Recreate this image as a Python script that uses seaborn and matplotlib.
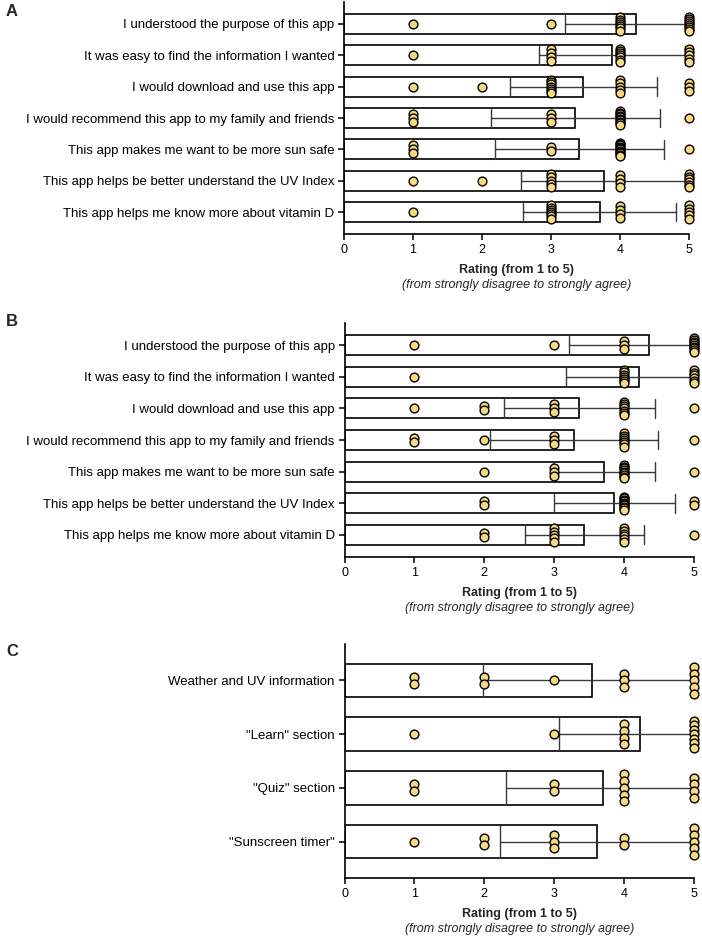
import numpy as np
import pandas as pd
import matplotlib
matplotlib.use("Agg")
import matplotlib.pyplot as plt
import seaborn as sns

ratings = [1, 2, 3, 4, 5]

items_ab = [
    "I understood the purpose of this app",
    "It was easy to find the information I wanted",
    "I would download and use this app",
    "I would recommend this app to my family and friends",
    "This app makes me want to be more sun safe",
    "This app helps be better understand the UV Index",
    "This app helps me know more about vitamin D",
]
# number of respondents giving rating 1..5, read from the dot stacks
counts_a = [
    [1, 0, 1, 7, 8],
    [1, 0, 4, 7, 5],
    [1, 1, 7, 5, 3],
    [3, 0, 3, 10, 1],
    [3, 0, 2, 11, 1],
    [1, 1, 5, 4, 6],
    [1, 0, 7, 4, 5],
]
counts_b = [
    [1, 0, 1, 3, 9],
    [1, 0, 0, 7, 6],
    [1, 2, 3, 7, 1],
    [2, 1, 3, 7, 1],
    [0, 1, 3, 9, 1],
    [0, 2, 0, 10, 2],
    [0, 2, 5, 6, 1],
]
items_c = [
    "Weather and UV information",
    '"Learn" section',
    '"Quiz" section',
    '"Sunscreen timer"',
]
counts_c = [
    [2, 2, 1, 3, 5],
    [1, 0, 1, 4, 7],
    [2, 0, 2, 5, 4],
    [1, 2, 3, 2, 5],
]

dot_color = "#F7D97F"
W, H = 702, 938


def long_table(items, counts):
    rows = []
    for item, cnt in zip(items, counts):
        for r, k in zip(ratings, cnt):
            rows += [(item, r)] * k
    return pd.DataFrame(rows, columns=["item", "rating"])


def dot_positions(counts, step, spread):
    xs, ys = [], []
    for i, cnt in enumerate(counts):
        for r, k in zip(ratings, cnt):
            if k == 0:
                continue
            d = min(step, spread / (k - 1)) if k > 1 else 0
            off = (np.arange(k) - (k - 1) / 2) * d
            xs += [r] * k
            ys += list(i + off)
    return xs, ys


def panel(ax, items, counts, step, spread, letter, letter_top, margin):
    df = long_table(items, counts)
    sns.barplot(data=df, x="rating", y="item", order=items, errorbar="sd",
                width=0.63, color="white", edgecolor="black", linewidth=1.2,
                capsize=0.6, err_kws={"color": "#3a3a3a", "linewidth": 1.0},
                ax=ax)
    xs, ys = dot_positions(counts, step, spread)
    ax.scatter(xs, ys, s=40, c=dot_color, edgecolors="black", linewidths=1.0,
               zorder=5, clip_on=False)
    ax.set_xlim(0, 5)
    ax.set_ylim(len(items) - 1 + margin, -margin)
    ax.set_xticks([0, 1, 2, 3, 4, 5])
    sns.despine(ax=ax)
    for s in ["left", "bottom"]:
        ax.spines[s].set_linewidth(1.2)
        ax.spines[s].set_color("black")
    ax.tick_params(axis="both", length=4.5, width=1.1, colors="black", pad=2.5)
    ax.tick_params(axis="y", labelsize=9.5)
    ax.tick_params(axis="x", labelsize=9)
    ax.set_ylabel("")
    ax.set_xlabel("Rating (from 1 to 5)", fontweight="bold", fontsize=9,
                  labelpad=6)
    ax.annotate("(from strongly disagree to strongly agree)",
                xy=(0.5, 0), xycoords="axes fraction", xytext=(0, -37),
                textcoords="offset points", ha="center", va="center",
                fontsize=9, fontstyle="italic")
    ax.figure.text(6 / W, 1 - letter_top / H, letter,
                   fontsize=12, fontweight="bold", va="top", ha="left")


sns.set_style("ticks")
plt.rcParams["font.family"] = ["Liberation Sans", "DejaVu Sans"]

fig = plt.figure(figsize=(7.02, 9.38), dpi=100)


def box(l, r, t, b):
    return [l / W, 1 - b / H, (r - l) / W, (b - t) / H]


ax_a = fig.add_axes(box(344, 689, 2, 234))
ax_b = fig.add_axes(box(344.5, 694, 323, 557))
ax_c = fig.add_axes(box(344.5, 694, 644, 878))

panel(ax_a, items_ab, counts_a, 0.13, 0.42, "A", 4, 0.7)
panel(ax_b, items_ab, counts_b, 0.13, 0.42, "B", 314, 0.7)
panel(ax_c, items_c, counts_c, 0.125, 0.5, "C", 644, 0.68)

fig.savefig("out.png", dpi=100)
